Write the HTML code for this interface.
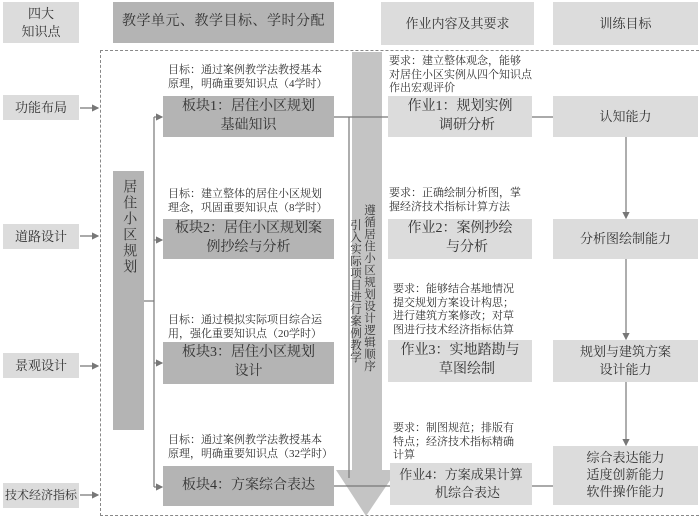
<!DOCTYPE html>
<html><head><meta charset="utf-8"><style>
body{margin:0;width:700px;height:522px;background:#fff;position:relative;overflow:hidden;font-family:"Liberation Serif","Noto Serif CJK SC",serif;color:#333}
.b{position:absolute;display:flex;align-items:center;justify-content:center;text-align:center;line-height:1.35;white-space:nowrap}
.l{background:#dcdcdc}.d{background:#b4b4b4}
.t{position:absolute;font-size:11px;line-height:13.5px;white-space:nowrap;color:#333}
.f14{font-size:13px}.f15{font-size:14px}
</style></head><body>
<div class="b l f14" style="left:3px;top:2px;width:76px;height:41px;white-space:normal">四大<br>知识点</div>
<div class="b d f15" style="left:113px;top:2px;width:221px;height:41px;letter-spacing:0.5px">教学单元、教学目标、学时分配</div>
<div class="b l f14" style="left:381px;top:2px;width:153px;height:43px">作业内容及其要求</div>
<div class="b l f14" style="left:553px;top:2px;width:145px;height:43px">训练目标</div>
<div style="position:absolute;left:100px;top:50px;width:604px;height:466px;border:1px dashed #888;box-sizing:border-box"></div>

<div class="b l f14" style="left:3px;top:95px;width:76px;height:25px">功能布局</div>
<div class="b l f14" style="left:3px;top:224px;width:76px;height:25px">道路设计</div>
<div class="b l f14" style="left:3px;top:353px;width:76px;height:25px">景观设计</div>
<div class="b l" style="left:3px;top:483px;width:76px;height:25px;font-size:12px">技术经济指标</div>

<svg style="position:absolute;left:0;top:0" width="700" height="522">
<defs><marker id="a" markerWidth="6" markerHeight="6" refX="5" refY="3" orient="auto"><path d="M0,0L6,3L0,6z" fill="#777"/></marker></defs>
<path d="M352,52H382V470H397L366,516L336,470H352Z" fill="#c4c4c4"/>
<g stroke="#777" stroke-width="1.2" fill="none">
<line x1="80" y1="108" x2="98" y2="108" marker-end="url(#a)"/>
<line x1="80" y1="236" x2="98" y2="236" marker-end="url(#a)"/>
<line x1="80" y1="366" x2="98" y2="366" marker-end="url(#a)"/>
<line x1="80" y1="495" x2="98" y2="495" marker-end="url(#a)"/>
<line x1="144" y1="301" x2="154" y2="301"/>
<line x1="154" y1="117" x2="154" y2="487"/>
<line x1="154" y1="117" x2="162" y2="117" marker-end="url(#a)"/>
<line x1="154" y1="240" x2="162" y2="240" marker-end="url(#a)"/>
<line x1="154" y1="363" x2="162" y2="363" marker-end="url(#a)"/>
<line x1="154" y1="487" x2="162" y2="487" marker-end="url(#a)"/>
<line x1="334" y1="117" x2="388" y2="117"/>
<line x1="349" y1="117" x2="349" y2="478"/>
<line x1="532" y1="117" x2="553" y2="117"/>
<line x1="626" y1="137" x2="626" y2="218" marker-end="url(#a)"/>
<line x1="626" y1="258" x2="626" y2="339" marker-end="url(#a)"/>
<line x1="626" y1="382" x2="626" y2="445" marker-end="url(#a)"/>
<line x1="532" y1="486" x2="553" y2="486"/>
<line x1="334" y1="486" x2="390" y2="486"/>
</g>
</svg>

<div class="b d f14" style="left:113px;top:171px;width:31px;height:259px;writing-mode:vertical-rl;justify-content:flex-start;padding-top:8px;box-sizing:border-box;line-height:1.1;font-size:14px;letter-spacing:2px">居住小区规划</div>

<div class="t" style="left:168px;top:64px">目标：通过案例教学法教授基本<br>原理，明确重要知识点（4学时）</div>
<div class="b d f15" style="left:163px;top:96px;width:171px;height:41px">板块1：居住小区规划<br>基础知识</div>
<div class="t" style="left:168px;top:188px">目标：建立整体的居住小区规划<br>理念，巩固重要知识点（8学时）</div>
<div class="b d f15" style="left:163px;top:219px;width:171px;height:40px">板块2：居住小区规划案<br>例抄绘与分析</div>
<div class="t" style="left:168px;top:314px">目标：通过模拟实际项目综合运<br>用，强化重要知识点（20学时）</div>
<div class="b d f15" style="left:163px;top:342px;width:171px;height:42px">板块3：居住小区规划<br>设计</div>
<div class="t" style="left:168px;top:434px">目标：通过案例教学法教授基本<br>原理，明确重要知识点（32学时）</div>
<div class="b d f15" style="left:163px;top:466px;width:171px;height:40px">板块4：方案综合表达</div>

<div style="position:absolute;left:362px;top:204px;writing-mode:vertical-rl;font-size:11.5px;line-height:13px;letter-spacing:0.5px">遵循居住小区规划设计逻辑顺序</div>
<div style="position:absolute;left:348px;top:219px;writing-mode:vertical-rl;font-size:11.5px;line-height:13px;letter-spacing:0.5px">引入实际项目进行案例教学</div>

<div class="t" style="left:389px;top:55px">要求：建立整体观念，能够<br>对居住小区实例从四个知识点<br>作出宏观评价</div>
<div class="b l f15" style="left:388px;top:96px;width:144px;height:41px">作业1：规划实例<br>&nbsp;&nbsp;&nbsp;&nbsp;调研分析</div>
<div class="t" style="left:389px;top:187px">要求：正确绘制分析图，掌<br>握经济技术指标计算方法</div>
<div class="b l f15" style="left:388px;top:219px;width:144px;height:40px">作业2：案例抄绘<br>&nbsp;&nbsp;&nbsp;&nbsp;与分析</div>
<div class="t" style="left:393px;top:283px">要求：能够结合基地情况<br>提交规划方案设计构思；<br>进行建筑方案修改；对草<br>图进行技术经济指标估算</div>
<div class="b l f15" style="left:388px;top:340px;width:144px;height:42px">作业3：实地踏勘与<br>&nbsp;&nbsp;&nbsp;&nbsp;草图绘制</div>
<div class="t" style="left:393px;top:422px">要求：制图规范；排版有<br>特点；经济技术指标精确<br>计算</div>
<div class="b l" style="left:390px;top:463px;width:142px;height:42px;font-size:13px">作业4：方案成果计算<br>&nbsp;&nbsp;&nbsp;&nbsp;机综合表达</div>

<div class="b l f14" style="left:553px;top:96px;width:145px;height:41px">认知能力</div>
<div class="b l f14" style="left:553px;top:219px;width:145px;height:40px">分析图绘制能力</div>
<div class="b l f14" style="left:553px;top:340px;width:145px;height:42px">规划与建筑方案<br>设计能力</div>
<div class="b l f14" style="left:553px;top:446px;width:145px;height:59px;line-height:1.3">综合表达能力<br>适度创新能力<br>软件操作能力</div>
</body></html>
